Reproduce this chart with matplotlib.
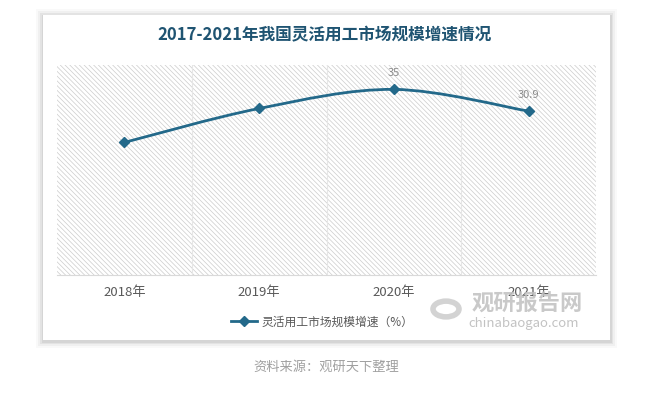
import numpy as np
import matplotlib
matplotlib.use("Agg")
import matplotlib.pyplot as plt
from matplotlib.path import Path
from matplotlib.patches import PathPatch, Rectangle, Circle
from matplotlib.lines import Line2D

plt.rcParams['font.family'] = ['Noto Sans CJK SC', 'DejaVu Sans']
plt.rcParams['hatch.linewidth'] = 0.5

# 数据
years = ['2018年', '2019年', '2020年', '2021年']
growth = [25.0, 31.4, 35.0, 30.9]
shown_labels = {2: '35', 3: '30.9'}

title = '2017-2021年我国灵活用工市场规模增速情况'
series_name = '灵活用工市场规模增速（%）'
source = '资料来源：观研天下整理'

line_color = '#23698a'
W, H = 649, 393

fig = plt.figure(figsize=(W / 100, H / 100), dpi=100)
fig.patch.set_facecolor('white')


def px_box(x0, y0, x1, y1):
    return x0 / W, 1 - y1 / H, (x1 - x0) / W, (y1 - y0) / H


# 卡片背景和阴影
for d, a in [(7, 0.025), (5, 0.035), (3, 0.05), (1.5, 0.06)]:
    bx, by, bw, bh = px_box(43 - d, 15 - d + 1, 610 + d, 340 + d + 1)
    fig.patches.append(Rectangle((bx, by), bw, bh, transform=fig.transFigure,
                                 facecolor='black', alpha=a, edgecolor='none', zorder=0))
bx, by, bw, bh = px_box(43, 15, 610, 340)
fig.patches.append(Rectangle((bx, by), bw, bh, transform=fig.transFigure,
                             facecolor='white', edgecolor='none', zorder=1))

ax = fig.add_axes([57 / W, 1 - 275 / H, (596 - 57) / W, (275 - 65) / H])
ax.set_zorder(2)
ax.set_facecolor('white')
x = np.arange(len(years))
ax.set_xlim(-0.5, len(years) - 0.5)
ax.set_ylim(0, 39.6)

# 斜线背景
ax.add_patch(Rectangle((0, 0), 1, 1, transform=ax.transAxes, facecolor='white',
                       edgecolor='#cccccc', hatch='\\' * 7, lw=0, zorder=0))
for b in x[:-1] + 0.5:
    ax.axvline(b, color='#e6e6e6', lw=0.8, zorder=1)

for s in ['top', 'right', 'left']:
    ax.spines[s].set_visible(False)
ax.spines['bottom'].set_color('#d9d9d9')
ax.set_yticks([])
ax.set_xticks(x)
ax.set_xticklabels(years, fontsize=9.5, color='#595959')
ax.tick_params(axis='x', length=0, pad=8)

# 平滑曲线
pts = np.column_stack([x, growth]).astype(float)
ext = np.vstack([pts[0], pts, pts[-1]])
verts = [tuple(pts[0])]
codes = [Path.MOVETO]
for i in range(len(pts) - 1):
    p0, p1, p2, p3 = ext[i], ext[i + 1], ext[i + 2], ext[i + 3]
    c1 = p1 + (p2 - p0) / 6
    c2 = p2 - (p3 - p1) / 6
    verts += [tuple(c1), tuple(c2), tuple(p2)]
    codes += [Path.CURVE4] * 3
ax.add_patch(PathPatch(Path(verts, codes), facecolor='none', edgecolor=line_color,
                       lw=2, zorder=3))
ax.plot(x, growth, linestyle='none', marker='D', markersize=5.5, color=line_color, zorder=4)

for i, lab in shown_labels.items():
    ax.annotate(lab, (x[i], growth[i]), xytext=(0, 8), textcoords='offset points',
                ha='center', va='bottom', fontsize=8, color='#8c8c8c')

fig.text(325 / W, 1 - 35 / H, title, ha='center', va='center', fontsize=12,
         fontweight='bold', color='#1f5472', zorder=5)

handle = Line2D([], [], color=line_color, lw=2, marker='D', markersize=5)
fig.legend([handle], [series_name], loc='center', bbox_to_anchor=(322 / W, 1 - 322 / H),
           frameon=False, fontsize=8.5, labelcolor='#595959', handlelength=2.2,
           handletextpad=0.4)

# 水印
fig.patches.append(Circle((446 / W, 1 - 309 / H), 13 / W, transform=fig.transFigure,
                          facecolor='none', edgecolor='#c8c8c8', lw=4, zorder=6, alpha=0.8))
fig.text(472 / W, 1 - 304 / H, '观研报告网', ha='left', va='center', fontsize=16,
         fontweight='bold', color='#c0c0c0', alpha=0.85, zorder=6)
fig.text(468 / W, 1 - 323 / H, 'chinabaogao.com', ha='left', va='center', fontsize=9.5,
         color='#b8b8b8', alpha=0.85, zorder=6)

fig.text(326 / W, 1 - 367 / H, source, ha='center', va='center', fontsize=9.5,
         color='#a0a0a0')

fig.savefig('out.png', dpi=100)
